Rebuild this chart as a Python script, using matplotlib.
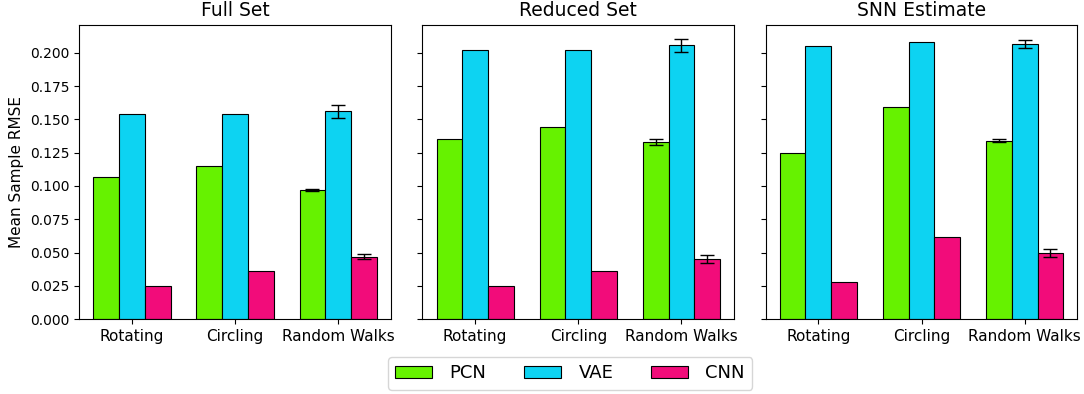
import numpy as np
import matplotlib
matplotlib.use('Agg')
import matplotlib.pyplot as plt

# data
categories = ['Rotating', 'Circling', 'Random Walks']
panels = ['Full Set', 'Reduced Set', 'SNN Estimate']
models = ['PCN', 'VAE', 'CNN']
colors = ['#66f200', '#0dd3f2', '#f20c7a']

pcn_mean = [[0.107, 0.115, 0.097], [0.135, 0.144, 0.133], [0.125, 0.159, 0.134]]
pcn_err = [[0.0, 0.0, 0.0005], [0.0, 0.0, 0.002], [0.0, 0.0, 0.0013]]
vae_mean = [[0.154, 0.154, 0.156], [0.202, 0.202, 0.2055], [0.205, 0.208, 0.2065]]
vae_err = [[0.0, 0.0, 0.005], [0.0, 0.0, 0.005], [0.0, 0.0, 0.003]]
cnn_mean = [[0.025, 0.036, 0.047], [0.025, 0.036, 0.045], [0.028, 0.062, 0.0495]]
cnn_err = [[0.0, 0.0, 0.002], [0.0, 0.0, 0.003], [0.0, 0.0, 0.003]]

means = [pcn_mean, vae_mean, cnn_mean]
errs = [pcn_err, vae_err, cnn_err]

fig, axes = plt.subplots(1, 3, figsize=(10.84, 3.94), dpi=100, sharey=True)
fig.subplots_adjust(left=0.073, right=0.994, top=0.937, bottom=0.19, wspace=0.1)

x = np.arange(len(categories))
width = 0.25
for p, ax in enumerate(axes):
    for m in range(len(models)):
        errv = errs[m][p]
        ax.bar(x + (m - 1) * width, means[m][p], width, color=colors[m],
               edgecolor='black', linewidth=0.8, label=models[m],
               yerr=[e if e > 0 else np.nan for e in errv], capsize=5,
               error_kw={'elinewidth': 1, 'capthick': 1})
    ax.set_title(panels[p], fontsize=13.5)
    ax.set_xticks(x)
    ax.set_xticklabels(categories, fontsize=11)
    ax.tick_params(axis='y', labelsize=10)
    ax.set_ylim(0, 0.221)

axes[0].set_yticks(np.arange(0, 0.201, 0.025))
axes[0].set_ylabel('Mean Sample RMSE', fontsize=11)

handles, labels = axes[0].get_legend_handles_labels()
fig.legend(handles, labels, loc='lower center', ncol=3, fontsize=13,
           handlelength=2.05, handletextpad=0.95, columnspacing=2.1,
           bbox_to_anchor=(0.526, -0.012))

fig.savefig('out.png', dpi=100)
